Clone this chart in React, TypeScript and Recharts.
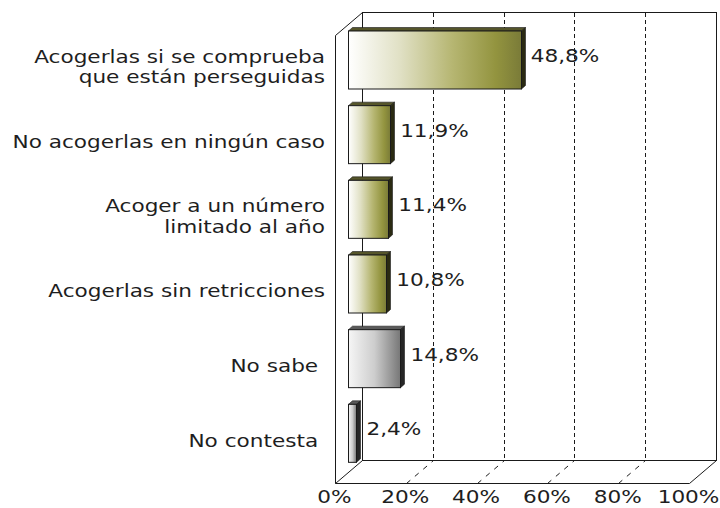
import { BarChart, Bar, XAxis, YAxis, ReferenceArea, LabelList, Cell } from "recharts"

const categories = [
  "Acogerlas si se comprueba\nque están perseguidas",
  "No acogerlas en ningún caso",
  "Acoger a un número\nlimitado al año",
  "Acogerlas sin retricciones",
  "No sabe ",
  "No contesta ",
]
const values = [48.8, 11.9, 11.4, 10.8, 14.8, 2.4]
const tickValues = [0, 20, 40, 60, 80, 100]

const data = categories.map((name, i) => ({ name, value: values[i] }))

const FONT = "'DejaVu Sans', Verdana, sans-serif"
const TEXT = "#1e1e1e"
const LINE = "#1a1a1a"
// half of the 3D depth, the plot area is the middle plane
const DX = 13.5
const DY = 11.5
const px = (v: number) => Math.round(v) + 0.5

// the original text is a wide bitmap font, so stretch it horizontally
function WideText({ x, y, anchor, children }: any) {
  return (
    <text
      transform={`translate(${x},${y}) scale(1.2,1)`}
      textAnchor={anchor}
      dominantBaseline="central"
      fontFamily={FONT}
      fontSize={18}
      fill={TEXT}
      style={{ whiteSpace: "pre" }}
    >
      {children}
    </text>
  )
}

function Frame(props: any) {
  const { x, y, width, height } = props
  const fx = px(x - DX)
  const bx = px(x + DX)
  const topB = px(y - DY)
  const topF = px(y + DY)
  const botB = px(y + height - DY)
  const botF = px(y + height + DY)
  const pos = (v: number) => Math.round(width * (v / 100))
  const inner = tickValues.slice(1, -1)
  return (
    <g shapeRendering="crispEdges">
      {inner.map((v) => (
        <g key={v}>
          <line x1={bx + pos(v)} y1={topB} x2={bx + pos(v)} y2={botB} stroke={LINE} strokeDasharray="4 3" />
          <line
            x1={fx + pos(v)}
            y1={botF}
            x2={bx + pos(v)}
            y2={botB}
            stroke={LINE}
            strokeDasharray="5 6"
            shapeRendering="auto"
          />
        </g>
      ))}
      <rect x={bx} y={topB} width={pos(100)} height={botB - topB} fill="none" stroke={LINE} />
      <polyline
        points={`${bx},${topB} ${fx},${topF} ${fx},${botF} ${bx},${botB}`}
        fill="none"
        stroke={LINE}
        shapeRendering="auto"
      />
      <polyline
        points={`${fx},${botF} ${fx + pos(100)},${botF} ${bx + pos(100)},${botB}`}
        fill="none"
        stroke={LINE}
        shapeRendering="auto"
      />
    </g>
  )
}

function Bar3D(props: any) {
  const { y, height, index } = props
  const x = px(props.x)
  const width = Math.round(props.width)
  const gray = index >= 4
  const d = 4
  const h = 3.5
  const top = gray ? "#5a5a5a" : "#55552a"
  const side = gray ? "#262626" : "#2a2a12"
  return (
    <g>
      <polygon
        points={`${x},${y} ${x + d},${y - h} ${x + width + d},${y - h} ${x + width},${y}`}
        fill={top}
        stroke={LINE}
        strokeWidth={0.6}
      />
      <polygon
        points={`${x + width},${y} ${x + width + d},${y - h} ${x + width + d},${y + height - h} ${x + width},${y + height}`}
        fill={side}
        stroke={LINE}
        strokeWidth={0.6}
      />
      <rect x={x} y={y} width={width} height={height} fill={gray ? "url(#gGray)" : "url(#gOlive)"} stroke={LINE} />
    </g>
  )
}

function CategoryTick(props: any) {
  const { x, y, payload } = props
  const lines = String(payload.value).split("\n")
  const lh = 20.5
  const y0 = y + 7 - ((lines.length - 1) * lh) / 2
  return (
    <g>
      {lines.map((l, i) => (
        <WideText key={i} x={x - 23} y={y0 + i * lh} anchor="end">
          {l}
        </WideText>
      ))}
    </g>
  )
}

function ValueTick(props: any) {
  const { x, y, payload } = props
  return (
    <WideText x={x - DX} y={y + 26} anchor="middle">
      {`${payload.value}%`}
    </WideText>
  )
}

function ValueLabel(props: any) {
  const { x, y, width, height, value } = props
  return (
    <WideText x={x + width + 10} y={y + height / 2 - 4} anchor="start">
      {`${String(value).replace(".", ",")}%`}
    </WideText>
  )
}

export default function App() {
  return (
    <div style={{ position: "absolute", left: 0, top: 0, background: "#fff" }}>
      <BarChart
        width={720}
        height={508}
        data={data}
        layout="vertical"
        margin={{ top: 23, right: 18, bottom: 0, left: 0 }}
        barSize={58}
      >
        <defs>
          <linearGradient id="gOlive" x1="0" y1="0" x2="1" y2="0">
            <stop offset="0%" stopColor="#ffffff" />
            <stop offset="30%" stopColor="#e0e0c4" />
            <stop offset="60%" stopColor="#b6b672" />
            <stop offset="85%" stopColor="#93943f" />
            <stop offset="100%" stopColor="#7a7b38" />
          </linearGradient>
          <linearGradient id="gGray" x1="0" y1="0" x2="1" y2="0">
            <stop offset="0%" stopColor="#f6f6f6" />
            <stop offset="50%" stopColor="#cdcdcd" />
            <stop offset="100%" stopColor="#777777" />
          </linearGradient>
        </defs>
        <ReferenceArea x1={0} x2={100} ifOverflow="visible" shape={<Frame />} />
        <XAxis
          type="number"
          domain={[0, 100]}
          ticks={tickValues}
          axisLine={false}
          tickLine={false}
          tickSize={0}
          tickMargin={0}
          height={37}
          interval={0}
          tick={<ValueTick />}
        />
        <YAxis
          type="category"
          dataKey="name"
          width={348}
          axisLine={false}
          tickLine={false}
          tickSize={0}
          tickMargin={0}
          interval={0}
          tick={<CategoryTick />}
        />
        <Bar dataKey="value" isAnimationActive={false} shape={<Bar3D />}>
          {data.map((d) => (
            <Cell key={d.name} />
          ))}
          <LabelList dataKey="value" content={<ValueLabel />} />
        </Bar>
      </BarChart>
    </div>
  )
}
